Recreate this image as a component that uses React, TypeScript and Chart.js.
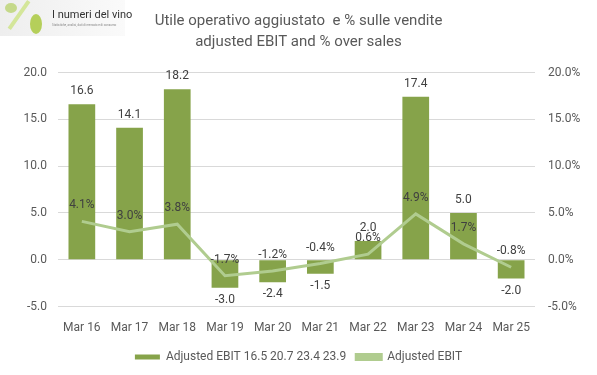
import React, { useEffect, useRef } from "react";
import { Chart, registerables } from "chart.js";

Chart.register(...registerables);

const categories = ["Mar 16", "Mar 17", "Mar 18", "Mar 19", "Mar 20", "Mar 21", "Mar 22", "Mar 23", "Mar 24", "Mar 25"];
const ebitValues = [16.6, 14.1, 18.2, -3.0, -2.4, -1.5, 2.0, 17.4, 5.0, -2.0];
const marginPct = [4.1, 3.0, 3.8, -1.7, -1.2, -0.4, 0.6, 4.9, 1.7, -0.8];
const titleLines = ["Utile operativo aggiustato  e % sulle vendite", "adjusted EBIT and % over sales"];
const barLabel = "Adjusted EBIT 16.5 20.7 23.4 23.9";
const lineLabel = "Adjusted EBIT";

const BAR_COLOR = "#86a34a";
const LINE_COLOR = "#b0cc8f";
const TEXT = "#595959";
const FONT = "Roboto, 'Liberation Sans', sans-serif";

const labelPlugin = {
  id: "dataLabels",
  afterDatasetsDraw(chart: any) {
    const ctx = chart.ctx;
    ctx.save();
    ctx.font = `12px ${FONT}`;
    ctx.textAlign = "center";
    ctx.textBaseline = "middle";
    const barMeta = chart.getDatasetMeta(0);
    barMeta.data.forEach((el: any, i: number) => {
      const v = ebitValues[i];
      ctx.fillStyle = "#404040";
      const y = v >= 0 ? el.y - 13 : el.y + 12;
      ctx.fillText(v.toFixed(1), el.x, y);
    });
    const lineMeta = chart.getDatasetMeta(1);
    lineMeta.data.forEach((el: any, i: number) => {
      const v = marginPct[i];
      ctx.fillStyle = "#404040";
      ctx.fillText(v.toFixed(1) + "%", el.x, el.y - 16);
    });
    ctx.restore();
  },
};

export default function App() {
  const ref = useRef<HTMLCanvasElement>(null);
  useEffect(() => {
    const chart = new Chart(ref.current!, {
      type: "bar",
      data: {
        labels: categories,
        datasets: [
          {
            type: "bar",
            label: barLabel,
            data: ebitValues,
            backgroundColor: BAR_COLOR,
            yAxisID: "y",
            order: 2,
            barPercentage: 0.56,
            categoryPercentage: 1,
          },
          {
            type: "line",
            label: lineLabel,
            data: marginPct,
            borderColor: LINE_COLOR,
            backgroundColor: LINE_COLOR,
            borderWidth: 3,
            pointRadius: 0,
            tension: 0,
            yAxisID: "y1",
            order: 1,
          },
        ],
      },
      options: {
        responsive: false,
        animation: false,
        layout: { padding: { left: 0, right: 0, top: 0, bottom: 2 } },
        plugins: {
          title: {
            display: true,
            text: titleLines,
            color: TEXT,
            font: { family: FONT, size: 15, weight: "normal" as any, lineHeight: 1.45 },
            padding: { top: 10, bottom: 19 },
          },
          legend: {
            position: "bottom",
            labels: {
              color: TEXT,
              font: { family: FONT, size: 12 },
              boxWidth: 25,
              boxHeight: 5,
              padding: 10,
              sort: (a: any, b: any) => a.datasetIndex - b.datasetIndex,
            },
          },
          tooltip: { enabled: false },
        },
        scales: {
          x: {
            grid: { display: false },
            border: { display: false },
            ticks: { color: TEXT, font: { family: FONT, size: 12 }, padding: 6 },
          },
          y: {
            position: "left",
            min: -5,
            max: 20,
            afterFit: (s: any) => { s.width = 58; },
            ticks: {
              stepSize: 5,
              color: TEXT,
              font: { family: FONT, size: 12 },
              padding: 11,
              callback: (v: any) => Number(v).toFixed(1),
            },
            grid: { color: "#d9d9d9", drawTicks: false },
            border: { display: false },
          },
          y1: {
            position: "right",
            min: -5,
            max: 20,
            afterFit: (s: any) => { s.width = 62; },
            ticks: {
              stepSize: 5,
              color: TEXT,
              font: { family: FONT, size: 12 },
              padding: 13,
              callback: (v: any) => Number(v).toFixed(1) + "%",
            },
            grid: { display: false, drawTicks: false },
            border: { display: false },
          },
        },
      },
      plugins: [labelPlugin],
    });
    return () => chart.destroy();
  }, []);

  return (
    <div style={{ position: "fixed", left: 0, top: 0, width: 597, height: 375, background: "#fff" }}>
      <canvas ref={ref} width={597} height={375} style={{ display: "block" }} />
      <div style={{ position: "absolute", left: 0, top: 0, width: 125, height: 36, background: "linear-gradient(90deg,#eeeeee,#fafafa)" }}>
        <div style={{ position: "absolute", left: 5, top: 3, width: 12, height: 10, borderRadius: "50%", background: "#c5d98a" }} />
        <div style={{ position: "absolute", left: 17, top: -2, width: 4, height: 34, background: "#d4e69a", transform: "rotate(35deg)" }} />
        <div style={{ position: "absolute", left: 30, top: 14, width: 12, height: 20, borderRadius: "50%", background: "#b5cf5a" }} />
        <div style={{ position: "absolute", left: 52, top: 8, fontFamily: "'Liberation Sans Narrow', Roboto, sans-serif", fontSize: 11, color: "#333", whiteSpace: "nowrap" }}>I numeri del vino</div>
        <div style={{ position: "absolute", left: 52, top: 23, fontFamily: FONT, fontSize: 3, color: "#888", whiteSpace: "nowrap" }}>Statistiche, analisi, dati di mercato e di consumo</div>
      </div>
    </div>
  );
}
